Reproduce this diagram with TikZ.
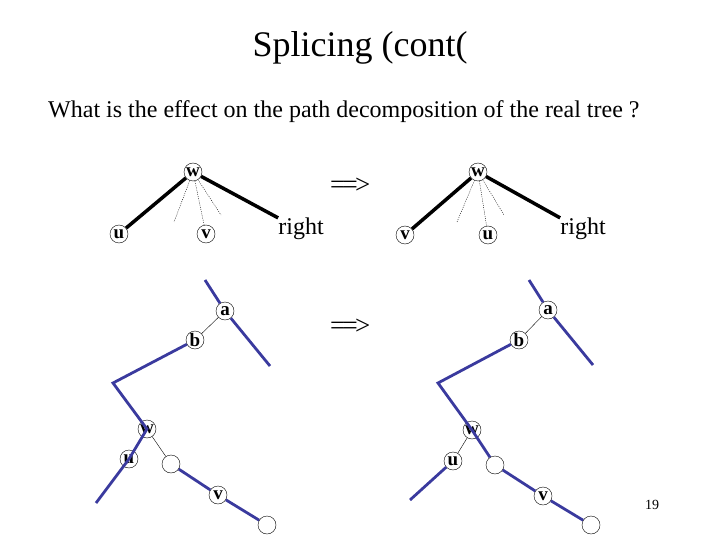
\documentclass[tikz,border=0pt]{standalone}
\usepackage{fontspec}
\setmainfont{Liberation Serif}
\definecolor{pathblue}{RGB}{58,58,158}

\begin{document}
\begin{tikzpicture}[x=1pt, y=-1pt,
  vert/.style={circle, draw, thin, inner sep=0pt, minimum size=18pt, font=\fontsize{19}{19}\selectfont\bfseries},
  heavy/.style={line width=3.5pt},
  light/.style={thin, dash pattern=on 1pt off 1.2pt},
  bluepath/.style={pathblue, line width=2.8pt},
  implies/.style={font=\fontsize{27}{27}\selectfont, anchor=base west, inner sep=0pt}]
\useasboundingbox (0,0) rectangle (720,540);
% title and question
\node[font=\fontsize{36}{36}\selectfont, anchor=base] (title) at (360,57) {Splicing (cont(};
\node[font=\fontsize{24}{24}\selectfont, anchor=base west, inner sep=0pt] (question) at (48,118)
  {What is the effect on the path decomposition of the real tree ?};
% upper row: before
\node[vert] (w1) at (193,172) {w};
\node[vert] (u1) at (119,234) {u};
\node[vert] (v1) at (206,234) {v};
\node[font=\fontsize{24}{24}\selectfont, inner sep=0pt] (r1) at (301,229) {right};
\coordinate (d1) at (174,222);
\coordinate (d2) at (221,215);
\draw[heavy] (w1) -- (u1);
\draw[heavy] (w1) -- (r1.north west);
\draw[light] (w1) -- (d1);
\draw[light] (w1) -- (d2);
\draw[light] (w1) -- (v1);
% upper row: after
\node[vert] (w2) at (478,172) {w};
\node[vert] (v2) at (405,235) {v};
\node[vert] (u2) at (488,235) {u};
\node[font=\fontsize{24}{24}\selectfont, inner sep=0pt] (r2) at (583,229) {right};
\coordinate (d3) at (457,222);
\coordinate (d4) at (504,215);
\draw[heavy] (w2) -- (v2);
\draw[heavy] (w2) -- (r2.north west);
\draw[light] (w2) -- (d3);
\draw[light] (w2) -- (d4);
\draw[light] (w2) -- (u2);
% the two arrows
\node[implies] (arrow1) at (330,194) {=\kern-2.8pt=\kern-2.8pt>};
\node[implies] (arrow2) at (330,334) {=\kern-2.8pt=\kern-2.8pt>};
% lower row: before
\node[vert] (a1) at (225,311) {a};
\node[vert] (b1) at (195,340) {b};
\node[vert] (x1) at (147,429) {w};
\node[vert] (y1) at (129,459) {u};
\node[vert] (e1) at (171,464) {};
\node[vert] (z1) at (218,495) {v};
\node[vert] (e2) at (267,525) {};
\coordinate (top1) at (205,280);
\coordinate (out1) at (270,366);
\coordinate (bend1) at (113,383);
\coordinate (low1) at (96,503);
\draw[bluepath] (top1) -- (a1);
\draw[bluepath] (a1) -- (out1);
\draw[bluepath] (b1) -- (bend1) -- (x1.center) -- (y1.center) -- (low1);
\draw[bluepath] (e1) -- (z1);
\draw[bluepath] (z1) -- (e2);
\draw[thin] (a1) -- (b1);
\draw[thin] (x1) -- (e1);
% lower row: after
\node[vert] (a2) at (548,310) {a};
\node[vert] (b2) at (519,340) {b};
\node[vert] (x2) at (472,430) {w};
\node[vert] (y2) at (453,461) {u};
\node[vert] (e3) at (495,465) {};
\node[vert] (z2) at (543,496) {v};
\node[vert] (e4) at (591,525) {};
\coordinate (top2) at (529,280);
\coordinate (out2) at (593,365);
\coordinate (bend2) at (438,383);
\coordinate (low2) at (410,500);
\draw[bluepath] (top2) -- (a2);
\draw[bluepath] (a2) -- (out2);
\draw[bluepath] (b2) -- (bend2) -- (x2.center) -- (e3);
\draw[bluepath] (y2) -- (low2);
\draw[bluepath] (e3) -- (z2);
\draw[bluepath] (z2) -- (e4);
\draw[thin] (a2) -- (b2);
\draw[thin] (x2) -- (y2);
% page number
\node[font=\fontsize{14}{14}\selectfont] (page) at (652,505) {19};
\end{tikzpicture}
\end{document}
